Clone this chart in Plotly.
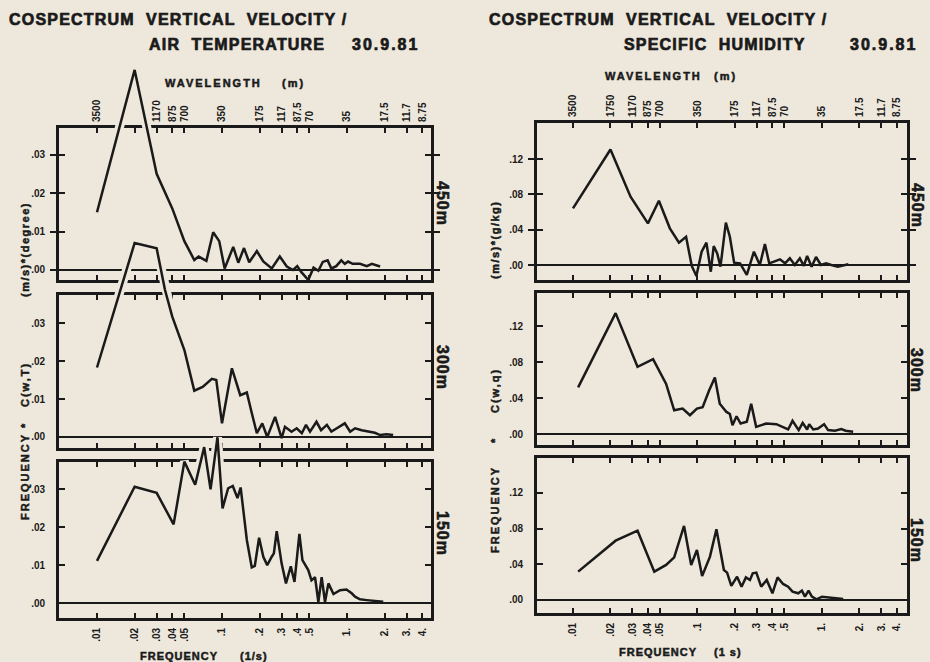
import plotly.graph_objects as go

# ---------------- data ----------------
freq_ticks = [0.01, 0.02, 0.03, 0.04, 0.05, 0.1, 0.2, 0.3, 0.4, 0.5, 1, 2, 3, 4]
freq_labels = [".01", ".02", ".03", ".04", ".05", ".1", ".2", ".3", ".4", ".5", "1.", "2.", "3.", "4."]
wave_labels_left = ["3500", "", "1170", "875", "700", "350", "175", "117", "87.5", "70", "35", "17.5", "11.7", "8.75"]
wave_labels_right = ["3500", "1750", "1170", "875", "700", "350", "175", "117", "87.5", "70", "35", "17.5", "11.7", "8.75"]
ytick_left = [0, 0.01, 0.02, 0.03]
ytick_left_text = [".00", ".01", ".02", ".03"]
ytick_right = [0, 0.04, 0.08, 0.12]
ytick_right_text = [".00", ".04", ".08", ".12"]
heights = ["450m", "300m", "150m"]

# C(w,T) 450 m
wT450_f = [0.01, 0.02, 0.03, 0.04, 0.05, 0.06, 0.065, 0.075, 0.085, 0.095, 0.105, 0.123, 0.135, 0.15, 0.165,
           0.19, 0.214, 0.25, 0.29, 0.33, 0.37, 0.40, 0.43, 0.49, 0.54, 0.59, 0.64, 0.70, 0.75, 0.82,
           0.90, 0.96, 1.02, 1.11, 1.27, 1.44, 1.58, 1.84]
wT450_v = [0.015, 0.052, 0.025, 0.016, 0.0075, 0.0026, 0.0035, 0.0024, 0.0098, 0.0075, 0.0004, 0.006, 0.0019, 0.0057, 0.002,
           0.0049, 0.0022, 0.0004, 0.0035, 0.0009, 0.0, 0.001, -0.0005, -0.0026, 0.0006, -0.0002, 0.0021, 0.0025, 0.0004, 0.001,
           0.0025, 0.0016, 0.0022, 0.0016, 0.0016, 0.001, 0.0016, 0.0009]
# C(w,T) 300 m
wT300_f = [0.01, 0.02, 0.03, 0.035, 0.04, 0.05, 0.06, 0.07, 0.083, 0.09, 0.10, 0.109, 0.12, 0.14, 0.158,
           0.173, 0.19, 0.21, 0.23, 0.266, 0.30, 0.319, 0.36, 0.396, 0.435, 0.47, 0.506, 0.57, 0.62, 0.69,
           0.75, 0.83, 0.96, 1.06, 1.16, 1.31, 1.48, 1.67, 1.84, 2.07, 2.34]
wT300_v = [0.0183, 0.0511, 0.0497, 0.0387, 0.0317, 0.0229, 0.0122, 0.0132, 0.0153, 0.015, 0.0036, 0.0102, 0.0181, 0.011, 0.0117,
           0.0063, 0.001, 0.0036, 0.0, 0.0053, -0.0003, 0.0027, 0.0014, 0.0023, 0.001, 0.0032, 0.0014, 0.004, 0.0018, 0.0032,
           0.0014, 0.0023, 0.0036, 0.0014, 0.0023, 0.0018, 0.0014, 0.0011, 0.0005, 0.0007, 0.0005]
# C(w,T) 150 m
wT150_f = [0.01, 0.02, 0.03, 0.041, 0.05, 0.061, 0.072, 0.081, 0.092, 0.101, 0.112, 0.122, 0.133, 0.141, 0.158,
           0.173, 0.183, 0.198, 0.214, 0.23, 0.25, 0.26, 0.274, 0.30, 0.325, 0.355, 0.38, 0.416, 0.44, 0.49,
           0.52, 0.555, 0.59, 0.627, 0.667, 0.71, 0.78, 0.88, 0.99, 1.09, 1.16, 1.27, 1.44, 1.67, 1.95]
wT150_v = [0.0111, 0.0306, 0.029, 0.0207, 0.0372, 0.0311, 0.041, 0.0299, 0.0436, 0.0249, 0.0302, 0.0308, 0.0276, 0.0304, 0.0166,
           0.0094, 0.0098, 0.0172, 0.0122, 0.01, 0.0122, 0.0131, 0.0189, 0.0104, 0.0052, 0.0097, 0.0056, 0.0182, 0.0113, 0.0087,
           0.006, 0.0068, 0.0003, 0.0068, 0.0003, 0.0052, 0.0024, 0.0034, 0.0036, 0.0026, 0.0017, 0.001, 0.0008, 0.0006, 0.0004]

# C(w,q) 450 m
wq450_f = [0.01, 0.02, 0.029, 0.04, 0.049, 0.06, 0.071, 0.081, 0.09, 0.098, 0.108, 0.118, 0.128, 0.135, 0.144,
           0.153, 0.169, 0.182, 0.197, 0.22, 0.249, 0.284, 0.317, 0.348, 0.377, 0.42, 0.46, 0.505, 0.552, 0.605,
           0.664, 0.715, 0.76, 0.826, 0.896, 0.98, 1.08, 1.19, 1.34, 1.63]
wq450_v = [0.0642, 0.131, 0.0774, 0.0472, 0.0729, 0.0416, 0.0253, 0.032, -0.0011, -0.0125, 0.0151, 0.0253, -0.0076, 0.0215, 0.0132,
           -0.0019, 0.048, 0.032, 0.0026, 0.0019, -0.0113, 0.0151, 0.0, 0.0238, 0.0019, 0.0045, 0.0064, 0.0019, 0.0076, 0.0,
           0.0076, -0.001, 0.0102, -0.002, 0.0091, 0.0, 0.0019, 0.0, -0.0019, 0.0008]
# C(w,q) 300 m
wq300_f = [0.011, 0.022, 0.033, 0.044, 0.056, 0.065, 0.076, 0.087, 0.099, 0.11, 0.124, 0.138, 0.151, 0.171, 0.182,
           0.191, 0.206, 0.222, 0.249, 0.27, 0.296, 0.325, 0.357, 0.43, 0.487, 0.535, 0.58, 0.65, 0.70, 0.76,
           0.79, 0.85, 0.93, 1.04, 1.12, 1.27, 1.43, 1.55, 1.78]
wq300_v = [0.052, 0.1346, 0.0748, 0.0833, 0.0558, 0.0264, 0.0283, 0.0209, 0.0283, 0.03, 0.0484, 0.063, 0.0337, 0.0246, 0.0223,
           0.0099, 0.0198, 0.0117, 0.0136, 0.0337, 0.008, 0.0099, 0.0117, 0.011, 0.008, 0.0051, 0.0147, 0.0044, 0.0125, 0.0051,
           0.011, 0.0051, 0.0062, 0.011, 0.0044, 0.0037, 0.0055, 0.0037, 0.0026]
# C(w,q) 150 m
wq150_f = [0.011, 0.022, 0.033, 0.045, 0.056, 0.065, 0.078, 0.089, 0.099, 0.109, 0.126, 0.142, 0.163, 0.173, 0.187,
           0.208, 0.226, 0.245, 0.264, 0.278, 0.297, 0.325, 0.36, 0.40, 0.44, 0.487, 0.535, 0.58, 0.645, 0.69,
           0.73, 0.78, 0.83, 0.905, 1.0, 1.12, 1.27, 1.48]
wq150_v = [0.0317, 0.0664, 0.0776, 0.0317, 0.0392, 0.0478, 0.0829, 0.0392, 0.056, 0.0269, 0.0485, 0.0792, 0.0336, 0.0306, 0.0157,
           0.0261, 0.0149, 0.0253, 0.0224, 0.0299, 0.0306, 0.0149, 0.0224, 0.0075, 0.0253, 0.0179, 0.0149, 0.0093, 0.0075, 0.0105,
           0.0037, 0.0105, 0.0037, 0.0007, 0.0037, 0.003, 0.0019, 0.0011]

series = {
    "L": [(wT450_f, wT450_v), (wT300_f, wT300_v), (wT150_f, wT150_v)],
    "R": [(wq450_f, wq450_v), (wq300_f, wq300_v), (wq150_f, wq150_v)],
}

# ---------------- layout geometry ----------------
W, H = 930, 662
BG = "#eee8dc"
INK = "#1a1a1a"
FONT = "Liberation Sans"


def fx(x):
    return x / W


def fy(y):
    return 1 - y / H


X_DOM = {"L": (59, 431), "R": (537, 907)}
X_RANGE = {"L": [-2.304, 0.672], "R": [-2.289, 0.683]}
Y_DOM = {"L": [(128, 280), (295, 448), (462, 618)], "R": [(123, 280), (293, 445), (458, 613)]}
Y_RANGE = {"L": [(-0.0026, 0.0369), (-0.0029, 0.0374), (-0.0039, 0.0371)],
           "R": [(-0.017, 0.161), (-0.0122, 0.157), (-0.0146, 0.159)]}
YTICKS = {"L": (ytick_left, ytick_left_text), "R": (ytick_right, ytick_right_text)}

tickfont = dict(family=FONT, size=10, color=INK, weight=700)


def bold(lst):
    return [f"<b>{t}</b>" if t else "" for t in lst]


fig = go.Figure()
layout = {}

idx = 0
panel_ids = []
for side in ("L", "R"):
    for row in range(3):
        idx += 1
        panel_ids.append((side, row, idx))
        x0, x1 = X_DOM[side]
        top, bot = Y_DOM[side][row]
        dx = [fx(x0), fx(x1)]
        dy = [fy(bot), fy(top)]
        r0, r1 = Y_RANGE[side][row]
        tv, tt = YTICKS[side]
        layout[f"xaxis{idx}"] = dict(
            domain=dx, type="log", range=X_RANGE[side], anchor=f"y{idx}",
            tickvals=freq_ticks, ticktext=bold(freq_labels), showticklabels=(row == 2), tickangle=-90,
            ticks="inside", ticklen=5, tickwidth=2, tickcolor=INK, mirror="allticks",
            showline=True, linewidth=2.8, linecolor=INK, showgrid=False, zeroline=False,
            tickfont=tickfont, ticklabelstandoff=3)
        layout[f"yaxis{idx}"] = dict(
            domain=dy, range=[r0, r1], anchor=f"x{idx}", tickvals=tv, ticktext=bold(tt),
            ticks="inside", ticklen=6, tickwidth=2, tickcolor=INK, mirror="allticks",
            showline=True, linewidth=2.8, linecolor=INK, showgrid=False,
            zeroline=True, zerolinecolor=INK, zerolinewidth=1.6,
            tickfont=tickfont, ticklabelstandoff=9)
        # invisible point so panel subplot is registered
        fig.add_trace(go.Scatter(x=[freq_ticks[0]], y=[0], mode="markers", marker=dict(opacity=0),
                                 xaxis=f"x{idx}", yaxis=f"y{idx}", hoverinfo="skip", showlegend=False))

# overlay axes so curves can run past panel borders (same scale as panel)
for side, row, idx in panel_ids:
    j = idx + 6
    x0, x1 = X_DOM[side]
    top, bot = Y_DOM[side][row]
    d0, d1 = fy(bot), fy(top)
    r0, r1 = Y_RANGE[side][row]
    k = (r1 - r0) / (d1 - d0)
    layout[f"xaxis{j}"] = dict(domain=[fx(x0), fx(x1)], type="log", range=X_RANGE[side],
                               anchor=f"y{j}", visible=False)
    layout[f"yaxis{j}"] = dict(domain=[0, 1], range=[r0 - d0 * k, r0 + (1 - d0) * k],
                               anchor=f"x{j}", visible=False)
    f, v = series[side][row]
    n = len(v)
    out = [(val > r1 or val < r0) for val in v]
    inc = [out[i] or (i > 0 and out[i - 1]) or (i < n - 1 and out[i + 1]) for i in range(n)]
    halo_v = [v[i] if inc[i] else None for i in range(n)]
    fig.add_trace(go.Scatter(x=f, y=halo_v, mode="lines", line=dict(color=BG, width=9),
                             connectgaps=False, xaxis=f"x{j}", yaxis=f"y{j}",
                             hoverinfo="skip", showlegend=False))
    fig.add_trace(go.Scatter(x=f, y=v, mode="lines", line=dict(color=INK, width=2.5),
                             xaxis=f"x{j}", yaxis=f"y{j}", hoverinfo="skip", showlegend=False))

# wavelength axes on top of the upper panels
for side, base, labels in (("L", 1, wave_labels_left), ("R", 4, wave_labels_right)):
    j = 13 if side == "L" else 14
    layout[f"xaxis{j}"] = dict(
        overlaying=f"x{base}" if base > 1 else "x", side="top", anchor=f"y{base}" if base > 1 else "y",
        type="log", range=X_RANGE[side], tickvals=freq_ticks, ticktext=bold(labels), tickangle=-90,
        ticks="", showline=False, showgrid=False, zeroline=False, tickfont=tickfont,
        ticklabelstandoff=5)
    fig.add_trace(go.Scatter(x=[freq_ticks[0]], y=[0], mode="markers", marker=dict(opacity=0),
                             xaxis=f"x{j}", yaxis=f"y{base}" if base > 1 else "y",
                             hoverinfo="skip", showlegend=False))


def sp(text, s, stroke):
    return (f'<b><span style="letter-spacing:{s}px;stroke:{INK};stroke-width:{stroke}px">'
            f'{text}</span></b>')


ann = []


def add(text, x, y, size, anchor="left", angle=0, spacing=1.5, stroke=0.5):
    ann.append(dict(text=sp(text, spacing, stroke), x=fx(x), y=fy(y), xref="paper", yref="paper",
                    xanchor=anchor, yanchor="middle", showarrow=False, textangle=angle,
                    font=dict(family=FONT, size=size, color=INK, weight=700)))


# titles
add("COSPECTRUM  VERTICAL  VELOCITY /", 7, 20, 16, spacing=1.2, stroke=0.7)
add("AIR  TEMPERATURE", 147, 44, 16, spacing=1.2, stroke=0.7)
add("30.9.81", 350, 44, 16, spacing=2, stroke=0.7)
add("COSPECTRUM  VERTICAL  VELOCITY /", 487, 20, 16, spacing=1.2, stroke=0.7)
add("SPECIFIC  HUMIDITY", 622, 44, 16, spacing=1.2, stroke=0.7)
add("30.9.81", 848, 44, 16, spacing=2, stroke=0.7)
# wavelength headings
add("WAVELENGTH", 163, 83, 11, spacing=2)
add("(m)", 280, 83, 11, spacing=2)
add("WAVELENGTH", 603, 76, 11, spacing=2)
add("(m)", 712, 76, 11, spacing=2)
# frequency headings
add("FREQUENCY", 138, 656, 11, spacing=1)
add("(1/s)", 238, 656, 11, spacing=1)
add("FREQUENCY", 617, 652, 11, spacing=1)
add("(1 s)", 712, 652, 11, spacing=1)
# y titles
add("(m/s)*(degree)", 25, 250, 11, anchor="center", angle=-90, spacing=1.5)
add("C(w,T)", 25, 385, 11, anchor="center", angle=-90, spacing=2)
add("*", 25, 425, 11, anchor="center", angle=-90)
add("FREQUENCY", 25, 477, 11, anchor="center", angle=-90, spacing=2)
add("(m/s)*(g/kg)", 495, 240, 11, anchor="center", angle=-90, spacing=1.5)
add("C(w,q)", 495, 391, 11, anchor="center", angle=-90, spacing=2)
add("*", 495, 440, 11, anchor="center", angle=-90)
add("FREQUENCY", 495, 510, 11, anchor="center", angle=-90, spacing=2)
# height labels
for (yl, yr), h in zip([(203, 205), (367, 370), (533, 540)], heights):
    add(h, 443, yl, 16, anchor="center", angle=90, spacing=1, stroke=0.6)
    add(h, 917, yr, 16, anchor="center", angle=90, spacing=1, stroke=0.6)

layout.update(dict(
    width=W, height=H, margin=dict(l=0, r=0, t=0, b=0),
    paper_bgcolor=BG, plot_bgcolor="rgba(0,0,0,0)",
    showlegend=False, hovermode=False, annotations=ann,
))
fig.update_layout(**layout)
fig.write_html("out.html")
